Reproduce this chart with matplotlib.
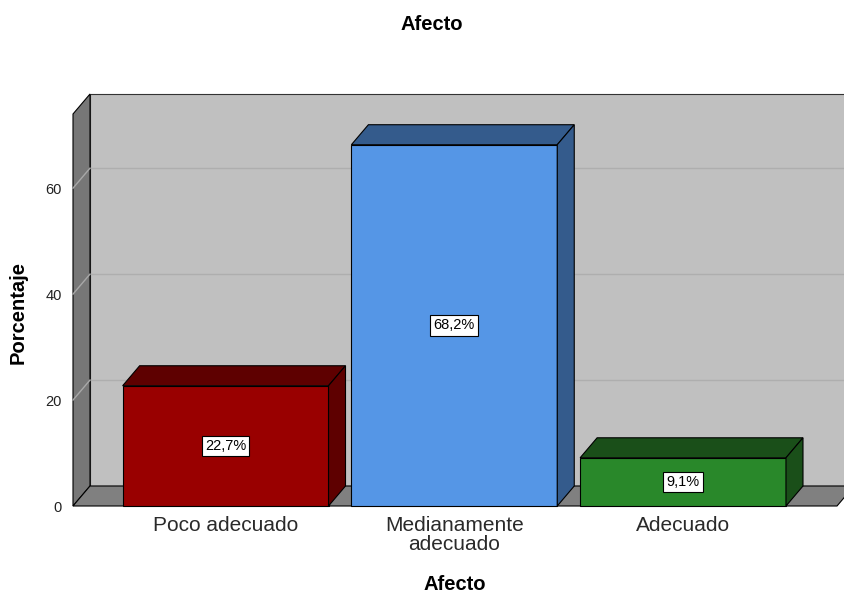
import matplotlib
matplotlib.use('Agg')
import matplotlib.pyplot as plt
from matplotlib.patches import Polygon

plt.rcParams['font.family'] = ['Liberation Sans', 'DejaVu Sans']

# datos
categorias = ['Poco adecuado', 'Medianamente\nadecuado', 'Adecuado']
porcentajes = [22.7, 68.2, 9.1]
etiquetas = ['22,7%', '68,2%', '9,1%']
colores_frente = ['#990000', '#5596E6', '#29882A']
colores_lado = ['#5E0000', '#345B8C', '#1A4F19']
yticks = [0, 20, 40, 60]

fig = plt.figure(figsize=(8.44, 5.93), dpi=100)
ax = fig.add_axes([73 / 844, 87 / 593, 764 / 844, 392 / 593])
x0, x1 = -0.667, 2.673
ytop = 74
ax.set_xlim(x0, x1)
ax.set_ylim(0, ytop)

# profundidad 3D en unidades de datos
dx = 17 / 228.7
dy = 20 / 5.297
lw = 0.8

def poly(pts, fc, ec='black', z=1, lw=lw):
    p = Polygon(pts, closed=True, facecolor=fc, edgecolor=ec, linewidth=lw,
                zorder=z, clip_on=False, joinstyle='miter')
    ax.add_patch(p)

# pared del fondo
poly([(x0 + dx, dy), (x1 + dx, dy), (x1 + dx, ytop + dy), (x0 + dx, ytop + dy)],
     '#C0C0C0', ec='#333333', z=1)
# lineas de rejilla
for v in yticks[1:]:
    ax.plot([x0 + dx, x1 + dx], [v + dy, v + dy], color='#AEAEAE', lw=1.0,
            zorder=2, clip_on=False)
# pared izquierda
poly([(x0, 0), (x0 + dx, dy), (x0 + dx, ytop + dy), (x0, ytop)], '#777777', z=3)
for v in yticks[1:]:
    ax.plot([x0, x0 + dx], [v, v + dy], color='#A8A8A8', lw=1.0, zorder=4,
            clip_on=False)
# piso
poly([(x0, 0), (x1, 0), (x1 + dx, dy), (x0 + dx, dy)], '#808080', z=3)

# barras
ancho = 0.9
for i, v in enumerate(porcentajes):
    a, b = i - ancho / 2, i + ancho / 2
    poly([(a, 0), (b, 0), (b, v), (a, v)], colores_frente[i], z=5)
    poly([(a, v), (b, v), (b + dx, v + dy), (a + dx, v + dy)], colores_lado[i], z=5)
    poly([(b, 0), (b + dx, dy), (b + dx, v + dy), (b, v)], colores_lado[i], z=5)
    ax.text(i, v / 2, etiquetas[i], ha='center', va='center', fontsize=10.5,
            zorder=6, bbox=dict(boxstyle='square,pad=0.22', fc='white',
                                ec='black', lw=0.8))

for s in ax.spines.values():
    s.set_visible(False)
ax.set_yticks(yticks)
ax.set_xticks(range(len(categorias)))
ax.set_xticklabels(categorias, fontsize=15, color='#2A2A2A', linespacing=1.05)
ax.tick_params(axis='x', length=0, pad=7)
ax.tick_params(axis='y', length=0, pad=8, labelsize=10.5, labelcolor='#222222')
ax.set_facecolor('none')

fig.text(432 / 844, 1 - 25 / 593, 'Afecto', ha='center', va='center',
         fontsize=14.5, fontweight='bold')
fig.text(455 / 844, 1 - 585 / 593, 'Afecto', ha='center', va='center',
         fontsize=14.5, fontweight='bold')
fig.text(18 / 844, 1 - 313 / 593, 'Porcentaje', ha='center', va='center',
         rotation=90, fontsize=14.5, fontweight='bold')

fig.savefig('out.png', dpi=100)
